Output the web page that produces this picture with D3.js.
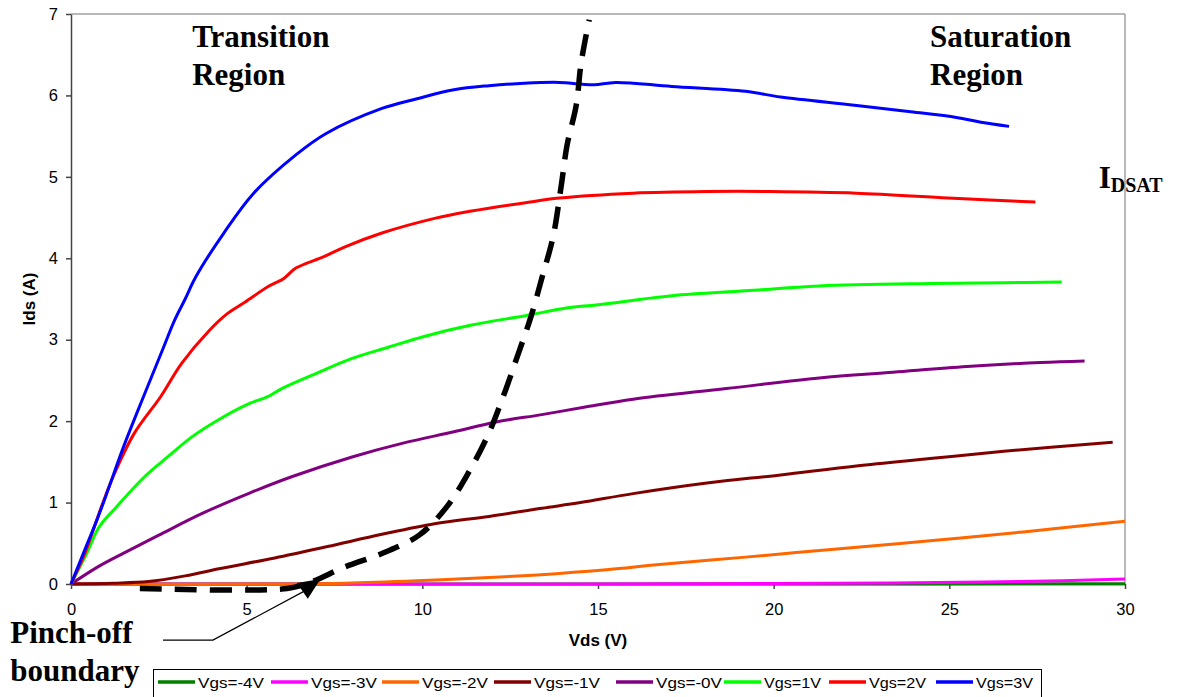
<!DOCTYPE html>
<html>
<head>
<meta charset="utf-8">
<script src="https://cdn.jsdelivr.net/npm/d3@7"></script>
<style>
  body { margin: 0; background: #fff; }
  svg { display: block; }
  .tick text { font-family: "Liberation Sans", Arial, sans-serif; font-size: 16.5px; fill: #000; }
  .label { font-family: "Liberation Sans", Arial, sans-serif; font-weight: bold; font-size: 17px; }
  .note { font-family: "Liberation Serif", "Times New Roman", serif; font-weight: bold; font-size: 31px; }
</style>
</head>
<body>
<div id="chart"></div>
<script>
// Id-Vd curves [Vds (V), Ids (A)]
let vgsNames = ["Vgs=-4V","Vgs=-3V","Vgs=-2V","Vgs=-1V","Vgs=-0V","Vgs=1V","Vgs=2V","Vgs=3V"];
let vgsColors = ["#008000","#ff00ff","#ff6600","#800000","#800080","#00ff00","#ff0000","#0000ff"];

let vgsM4 = [[0,0],[10,0],[20,0],[30,0.004]];
let vgsM3 = [[0,0],[10,0],[20,0.005],[24,0.015],[27,0.03],[30,0.06]];
let vgsM2 = [[0,0],[6,0],[7.8,0.01],[9.85,0.04],[11.9,0.08],[13.9,0.13],[15.6,0.19],[16.5,0.23],[19.2,0.33],[21.8,0.43],[24.45,0.53],[27.1,0.64],[30,0.77]];
let vgsM1 = [[0,0],[1.2,0.01],[2.2,0.03],[3.25,0.1],[4.25,0.19],[5.8,0.32],[7.3,0.46],[8.85,0.61],[10.35,0.74],[11.9,0.83],[13.4,0.93],[14.5,1.0],[16,1.11],[18.1,1.24],[20.2,1.34],[22.35,1.45],[24.45,1.54],[26.55,1.63],[29.65,1.74]];
let vgs0 = [[0,0],[0.8,0.22],[1.5,0.38],[2.5,0.6],[3.75,0.87],[5.1,1.12],[6.3,1.32],[8,1.56],[9.45,1.73],[10.9,1.87],[12.1,1.99],[13.4,2.08],[14.6,2.17],[16,2.27],[18.65,2.4],[21.3,2.53],[23.4,2.6],[25.5,2.67],[27.6,2.72],[28.85,2.74]];
let vgs1 = [[0,0],[0.45,0.38],[0.8,0.7],[1.3,0.95],[2.1,1.32],[2.75,1.56],[3.45,1.81],[4.25,2.03],[5.1,2.22],[5.6,2.3],[6,2.4],[7,2.59],[8,2.77],[9.05,2.91],[10.05,3.04],[11.4,3.18],[13,3.3],[14.1,3.39],[15,3.43],[17.1,3.54],[19.2,3.6],[21.3,3.66],[24.45,3.69],[26.55,3.7],[28.2,3.71]];
let vgs2 = [[0,0],[0.4,0.38],[0.8,0.87],[1.2,1.32],[1.8,1.85],[2.55,2.3],[3.15,2.71],[3.95,3.12],[4.45,3.32],[4.95,3.46],[5.6,3.65],[6.05,3.75],[6.4,3.88],[7.2,4.02],[7.8,4.14],[8.85,4.31],[10.35,4.49],[11.4,4.58],[12.9,4.68],[13.9,4.74],[16,4.8],[18.1,4.82],[19.9,4.82],[22.35,4.8],[24.95,4.74],[26,4.72],[27.45,4.69]];
let vgs3 = [[0,0],[0.45,0.48],[0.75,0.8],[1.05,1.15],[1.5,1.69],[2.1,2.34],[2.6,2.87],[2.95,3.24],[3.25,3.5],[3.55,3.77],[4.35,4.31],[5.2,4.8],[6.4,5.27],[7.25,5.53],[8.85,5.84],[9.85,5.96],[10.9,6.07],[11.9,6.12],[12.9,6.15],[13.9,6.16],[14.5,6.14],[14.9,6.13],[15.5,6.16],[17.1,6.11],[19.2,6.05],[20.2,5.98],[22.3,5.88],[23.9,5.8],[25.2,5.73],[25.9,5.67],[26.7,5.62]];

let curves = [vgsM4, vgsM3, vgsM2, vgsM1, vgs0, vgs1, vgs2, vgs3];

// pinch-off boundary sketched on the chart
let pinchOff = [[1.96,-0.055],[6.15,-0.055],[6.8,0.02],[7.8,0.21],[8.88,0.38],[9.91,0.6],[10.7,0.95],[11.33,1.38],[11.87,1.83],[12.3,2.3],[12.7,2.79],[13.09,3.28],[13.41,3.77],[13.72,4.26],[13.95,4.88],[14.12,5.39],[14.38,5.88],[14.52,6.4],[14.75,6.93]];
let pointer = [[2.62,-0.69],[4.04,-0.69],[6.8,-0.05]];
let arrowHead = [[6.43,0.012],[7.1,0.06],[6.74,-0.18]];

let xTicks = [0,5,10,15,20,25,30];
let yTicks = [0,1,2,3,4,5,6,7];

let width = 1179;
let height = 697;
let padLeft = 71, padTop = 14, plotRight = 1125, plotBottom = 584;

let chart = d3.select("#chart").append("svg")
  .attr("width", width)
  .attr("height", height);

let xscale = d3.scaleLinear().domain([0,30]).range([padLeft,plotRight]);
let yscale = d3.scaleLinear().domain([0,7]).range([plotBottom,padTop]);

// light frame on top and right
chart.append("line")
  .attr("x1", xscale(0)).attr("x2", xscale(30))
  .attr("y1", yscale(7)).attr("y2", yscale(7))
  .attr("stroke", "#a0a0a0").attr("stroke-width", 1.5);
chart.append("line")
  .attr("x1", xscale(30)).attr("x2", xscale(30))
  .attr("y1", yscale(7)).attr("y2", yscale(0))
  .attr("stroke", "#a0a0a0").attr("stroke-width", 1.5);

let xAxis = d3.axisBottom(xscale).tickValues(xTicks).tickFormat(d3.format("d")).tickSize(5).tickSizeOuter(0).tickPadding(14);
let yAxis = d3.axisLeft(yscale).tickValues(yTicks).tickFormat(d3.format("d")).tickSize(5).tickSizeOuter(0).tickPadding(8);

chart.append("g")
  .attr("class","xaxis")
  .attr("transform","translate(0,"+plotBottom+")")
  .call(xAxis);
chart.append("g")
  .attr("class","yaxis")
  .attr("transform","translate("+padLeft+",0)")
  .call(yAxis);

chart.selectAll(".domain, .tick line").attr("stroke","#444").attr("stroke-width",1.5);

let line = d3.line()
  .x(function(d){ return xscale(d[0]); })
  .y(function(d){ return yscale(d[1]); });
let smooth = d3.line()
  .x(function(d){ return xscale(d[0]); })
  .y(function(d){ return yscale(d[1]); })
  .curve(d3.curveCatmullRom.alpha(0.5));

chart.append("g").selectAll("path")
  .data(curves)
  .enter()
  .append("path")
  .attr("d", smooth)
  .attr("fill","none")
  .attr("stroke", function(d,i){ return vgsColors[i]; })
  .attr("stroke-width", 3)
  .attr("stroke-linejoin","round");

// dashed boundary
chart.append("path")
  .attr("d", smooth(pinchOff))
  .attr("fill","none")
  .attr("stroke","#000")
  .attr("stroke-width",5.5)
  .attr("stroke-dasharray","22,13");

chart.append("path")
  .attr("d", line(pointer))
  .attr("fill","none")
  .attr("stroke","#000")
  .attr("stroke-width",1.3);
chart.append("path")
  .attr("d", line(arrowHead) + "Z")
  .attr("fill","#000");

// axis titles
chart.append("text").text("Vds (V)")
  .attr("class","label")
  .attr("text-anchor","middle")
  .attr("x", (padLeft+plotRight)/2)
  .attr("y", 646);
chart.append("text").text("Ids (A)")
  .attr("class","label")
  .attr("text-anchor","middle")
  .attr("transform","translate(35,"+((padTop+plotBottom)/2)+") rotate(-90)");

// region notes
function note(lines, vx, vy){
  let t = chart.append("text").attr("class","note");
  lines.forEach(function(s,i){
    t.append("tspan").attr("x", xscale(vx)).attr("y", yscale(vy) + i*38).text(s);
  });
}
note(["Transition","Region"], 3.45, 6.6);
note(["Saturation","Region"], 24.45, 6.6);
note(["Pinch-off","boundary"], -1.73, -0.73);

let idsat = chart.append("text").attr("class","note")
  .attr("x", xscale(29.25)).attr("y", yscale(4.86));
idsat.append("tspan").text("I");
idsat.append("tspan").attr("font-size","20px").attr("dy", 4).text("DSAT");

// legend
let legX = [158,271,382,494,616,724,829,936];
let legend = chart.append("g");
legend.append("rect")
  .attr("x",153.5).attr("y",669.5)
  .attr("width",888).attr("height",34)
  .attr("fill","#fff").attr("stroke","#000").attr("stroke-width",1);

let item = legend.selectAll("g.item")
  .data(vgsNames)
  .enter()
  .append("g")
  .attr("class","item")
  .attr("transform", function(d,i){ return "translate("+legX[i]+",0)"; });
item.append("line")
  .attr("x1",0).attr("x2",37)
  .attr("y1",682).attr("y2",682)
  .attr("stroke", function(d,i){ return vgsColors[i]; })
  .attr("stroke-width",3.5);
item.append("text")
  .text(function(d){ return d; })
  .attr("x",40).attr("y",688)
  .attr("font-family","'Liberation Sans', Arial, sans-serif")
  .attr("font-size","14px")
  .attr("textLength", function(d){ return d.length === 7 ? 66 : 57; })
  .attr("lengthAdjust","spacingAndGlyphs");
</script>
</body>
</html>
